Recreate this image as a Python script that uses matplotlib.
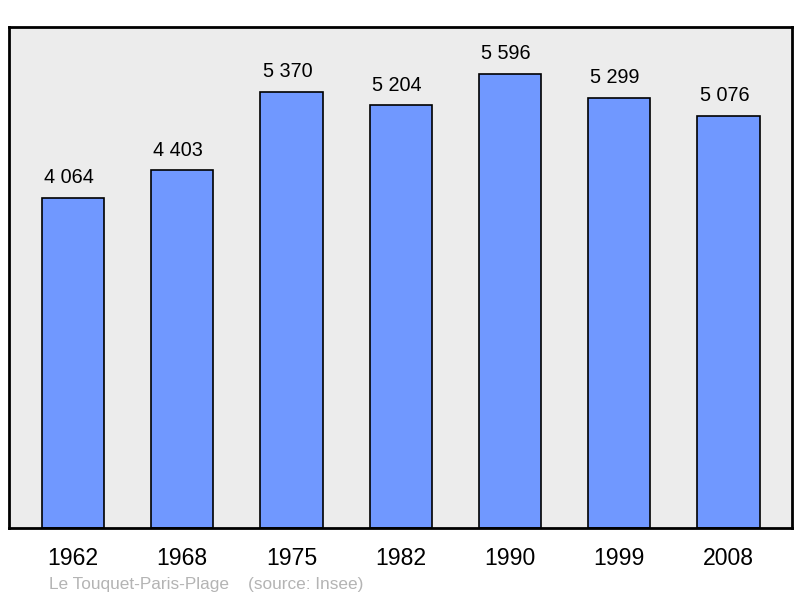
import matplotlib.pyplot as plt

years = ['1962', '1968', '1975', '1982', '1990', '1999', '2008']
population = [4064, 4403, 5370, 5204, 5596, 5299, 5076]
labels = ['4 064', '4 403', '5 370', '5 204', '5 596', '5 299', '5 076']
town = 'Le Touquet-Paris-Plage'
source = '(source: Insee)'

plt.rcParams['font.family'] = ['Liberation Sans', 'DejaVu Sans']

fig = plt.figure(figsize=(8, 5.98), dpi=100)
ax = fig.add_axes([0.01125, 0.117, 0.97875, 0.838])
ax.set_facecolor('#ececec')

x = range(len(years))
ax.bar(x, population, width=0.57, color='#7098ff', edgecolor='black', linewidth=1.2, zorder=2)

# value labels sit a little left of the bar centre, as in the original
for xi, val, lab in zip(x, population, labels):
    ax.annotate(lab, (xi, val), xytext=(-3, 10.5), textcoords='offset points',
                ha='center', va='baseline', fontsize=14.3, color='black')

ax.set_xlim(-0.585, 6.58)
ax.set_ylim(0, 6170)
ax.set_xticks(list(x))
ax.set_xticklabels(years, fontsize=16.6)
ax.tick_params(axis='x', length=0, pad=14)
ax.set_yticks([])
for spine in ax.spines.values():
    spine.set_linewidth(2)

fig.text(49 / 800, 1 - 584 / 598, town, fontsize=12.4,
         color='#b4b4b4', ha='left', va='center')
fig.text(248 / 800, 1 - 584 / 598, source, fontsize=12.4,
         color='#b4b4b4', ha='left', va='center')

fig.savefig('out.png', dpi=100)
